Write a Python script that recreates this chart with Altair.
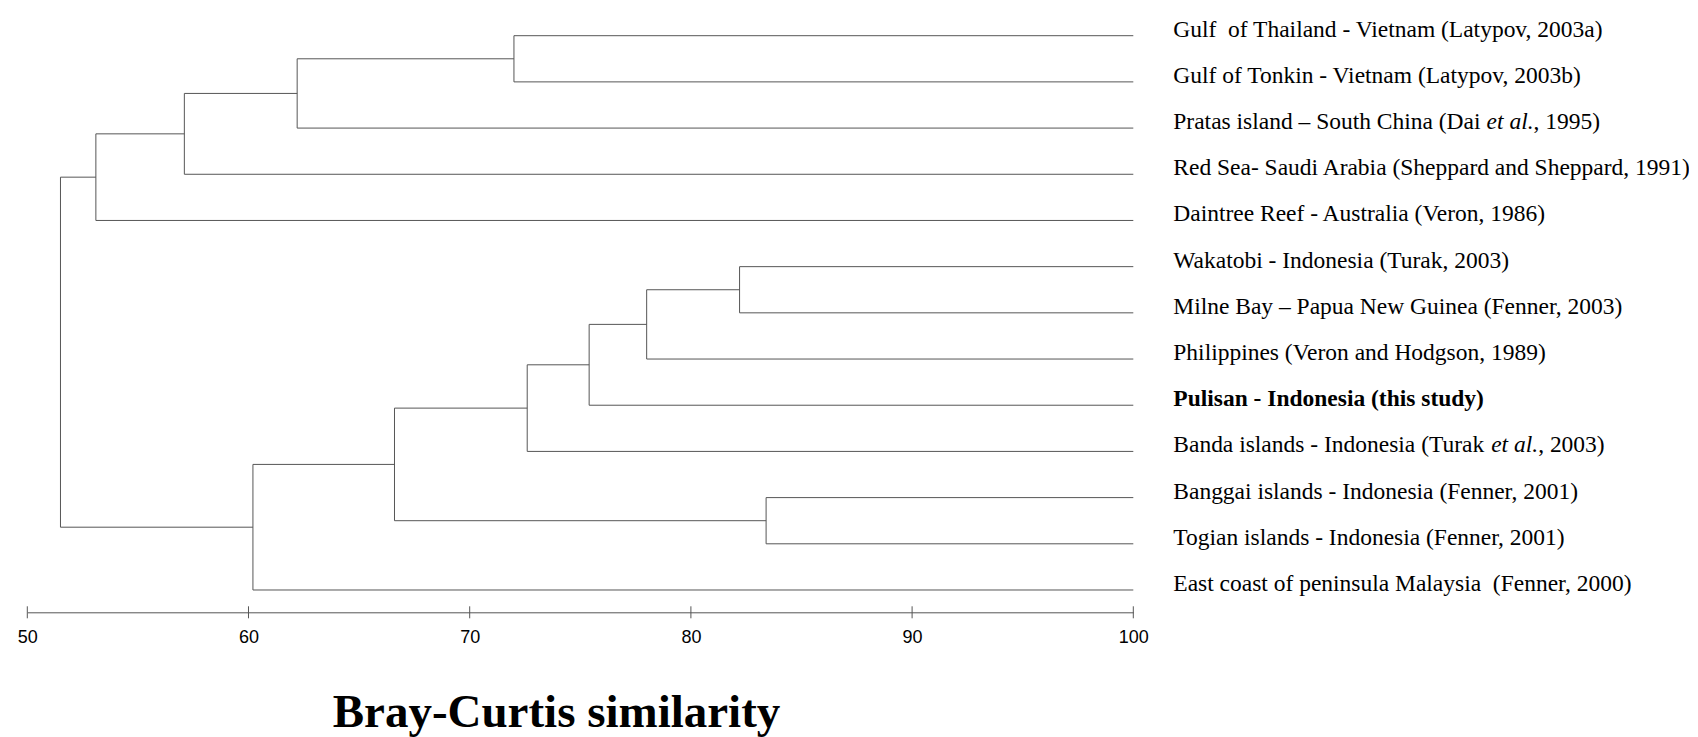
import altair as alt
import pandas as pd

# ---- data ----
# each leaf label is a list of (text, style) pieces; style: n = normal, i = italic, b = bold
leaf_labels = [
    [("Gulf\u00a0 of Thailand - Vietnam (Latypov, 2003a)", "n")],
    [("Gulf of Tonkin - Vietnam (Latypov, 2003b)", "n")],
    [("Pratas island \u2013 South China (Dai ", "n"), ("et al.", "i"), (", 1995)", "n")],
    [("Red Sea- Saudi Arabia (Sheppard and Sheppard, 1991)", "n")],
    [("Daintree Reef - Australia (Veron, 1986)", "n")],
    [("Wakatobi - Indonesia (Turak, 2003)", "n")],
    [("Milne Bay \u2013 Papua New Guinea (Fenner, 2003)", "n")],
    [("Philippines (Veron and Hodgson, 1989)", "n")],
    [("Pulisan - Indonesia (this study)", "b")],
    [("Banda islands - Indonesia (Turak ", "n"), ("et al.", "i"), (", 2003)", "n")],
    [("Banggai islands - Indonesia (Fenner, 2001)", "n")],
    [("Togian islands - Indonesia (Fenner, 2001)", "n")],
    [("East coast of peninsula Malaysia\u00a0 (Fenner, 2000)", "n")],
]

# merges: node k joins child_a and child_b at similarity merge_height[k]
merge_a = ["L0", "N0", "N1", "N2", "L5", "N4", "N5", "N6", "L10", "N7", "N9", "N3"]
merge_b = ["L1", "L2", "L3", "L4", "L6", "L7", "L8", "L9", "L11", "N8", "L12", "N10"]
merge_height = [72.0, 62.2, 57.1, 53.1, 82.2, 78.0, 75.4, 72.6, 83.4, 66.6, 60.2, 51.5]

tick_values = [50, 60, 70, 80, 90, 100]
x_domain = [50, 100]
leaf_x = 100

# ---- style ----
LINE = "#555555"
W = 1106
H = 599.7
LABEL_SIZE = 23.5
LABEL_GAP = 40

# Times (Liberation Serif) advance widths, per 1000 em, for placing text pieces
_w = {
    " ": 250, "\u00a0": 250, "a": 444, "b": 500, "c": 444, "d": 500, "e": 444, "f": 333,
    "g": 500, "h": 500, "i": 278, "j": 278, "k": 500, "l": 278, "m": 778, "n": 500,
    "o": 500, "p": 500, "q": 500, "r": 333, "s": 389, "t": 278, "u": 500, "v": 500,
    "w": 722, "x": 500, "y": 500, "z": 444, "A": 722, "B": 667, "C": 667, "D": 722,
    "E": 611, "F": 556, "G": 722, "H": 722, "I": 333, "J": 389, "K": 722, "L": 611,
    "M": 889, "N": 722, "O": 722, "P": 556, "Q": 722, "R": 667, "S": 556, "T": 611,
    "U": 722, "V": 722, "W": 944, "X": 722, "Y": 722, "Z": 611, ",": 250, ".": 250,
    "-": 333, "\u2013": 500, "(": 333, ")": 333,
}
_wi = {"e": 444, "t": 278, " ": 250, "a": 500, "l": 278, ".": 250, ",": 250}


def text_width(s, style):
    table = _wi if style == "i" else _w
    return sum(table.get(c, _w.get(c, 500)) for c in s) * LABEL_SIZE / 1000.0


# ---- build dendrogram segments from the tree ----
pos = {}
for i in range(len(leaf_labels)):
    pos[f"L{i}"] = (leaf_x, float(i))

segs = []
for k, (a, b, h) in enumerate(zip(merge_a, merge_b, merge_height)):
    xa, ya = pos[a]
    xb, yb = pos[b]
    segs.append({"x": xa, "x2": h, "y": ya, "y2": ya})
    segs.append({"x": xb, "x2": h, "y": yb, "y2": yb})
    segs.append({"x": h, "x2": h, "y": ya, "y2": yb})
    pos[f"N{k}"] = (h, (ya + yb) / 2)

seg_df = pd.DataFrame(segs)

# label pieces: pixel x of each piece = pixel of the leaf end + gap + width of earlier pieces
leaf_px = (leaf_x - x_domain[0]) / (x_domain[1] - x_domain[0]) * W
rows = []
for i, pieces in enumerate(leaf_labels):
    off = LABEL_GAP
    for txt, style in pieces:
        rows.append({"idx": i, "px": leaf_px + off, "text": txt, "style": style})
        off += text_width(txt, style)
lab_df = pd.DataFrame(rows)
tick_df = pd.DataFrame({"t": tick_values})

xscale = alt.Scale(domain=x_domain, nice=False, zero=False)
yscale = alt.Scale(domain=[-0.5, 12.483], reverse=True, nice=False, zero=False)

x_axis = alt.Axis(
    values=tick_values,
    format="d",
    grid=False,
    ticks=False,
    tickSize=0,
    domain=True,
    domainColor=LINE,
    domainWidth=1,
    labelFont="Liberation Sans",
    labelFontSize=18,
    labelColor="black",
    labelPadding=16,
    labelFlush=False,
    title="Bray-Curtis similarity",
    titleFont="Liberation Serif",
    titleFontSize=47,
    titleFontWeight="bold",
    titleColor="black",
    titleX=528.7,
    titleY=114.7,
    titleAlign="center",
    titleBaseline="alphabetic",
)

lines = alt.Chart(seg_df).mark_rule(color=LINE, strokeWidth=1).encode(
    x=alt.X("x:Q", scale=xscale, axis=x_axis),
    x2="x2:Q",
    y=alt.Y("y:Q", scale=yscale, axis=None),
    y2="y2:Q",
)

ticks = alt.Chart(tick_df).mark_rule(color=LINE, strokeWidth=1).encode(
    x=alt.X("t:Q", scale=xscale),
    y=alt.value(H - 6),
    y2=alt.value(H + 6),
)


def label_layer(style, **props):
    return alt.Chart(lab_df).transform_filter(f"datum.style == '{style}'").mark_text(
        align="left", baseline="alphabetic", dy=1,
        font="Liberation Serif", fontSize=LABEL_SIZE, color="black", **props,
    ).encode(
        x=alt.X("px:Q", scale=None),
        y=alt.Y("idx:Q", scale=yscale),
        text="text:N",
    )


labels_n = label_layer("n")
labels_i = label_layer("i", fontStyle="italic")
labels_b = label_layer("b", fontWeight="bold")

chart = alt.layer(lines, ticks, labels_n, labels_i, labels_b).properties(
    width=W,
    height=H,
    autosize=alt.AutoSizeParams(type="none"),
    padding={"left": 19.3, "top": 4.6, "right": 556, "bottom": 124.7},
).configure(background="white").configure_view(strokeWidth=0, stroke="transparent")

chart.save("out.html", embed_options={"renderer": "svg", "actions": False})
